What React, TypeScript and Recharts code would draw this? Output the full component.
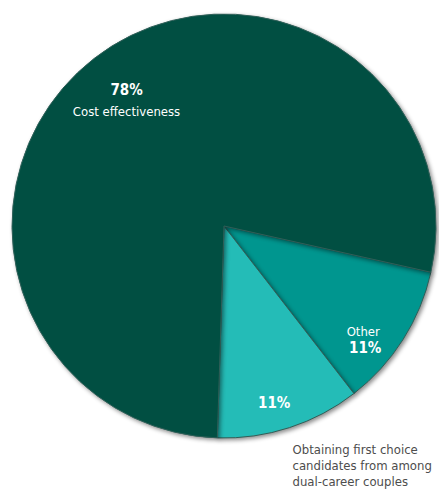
import { Cell, Pie, PieChart } from 'recharts';

const names = ['Other', 'Obtaining first choice candidates from among dual-career couples', 'Cost effectiveness'];
const shares = [11, 11, 78];
const colors = ['#00968f', '#24bcb7', '#014f42'];

const data = names.map((name, i) => ({ name, value: shares[i] }));

const FONT = '"Liberation Sans Narrow", "DejaVu Sans Condensed", "Roboto", sans-serif';
const RAD = Math.PI / 180;

// label placement per slice: radius fraction + small angular nudge (degrees)
const labelPlace = [
  { r: 0.85, shift: -7 },
  { r: 0.86, shift: -2 },
  { r: 0.75, shift: 0 },
];

function SliceLabel(props: any) {
  const { cx, cy, midAngle, outerRadius, index, payload } = props;
  const place = labelPlace[index];
  const a = (midAngle + place.shift) * RAD;
  const x = cx + outerRadius * place.r * Math.cos(-a);
  const y = cy + outerRadius * place.r * Math.sin(-a);
  const pct = `${payload.value}%`;

  if (index === 0) {
    return (
      <text x={x} y={y} fill="#fff" textAnchor="middle" fontFamily={FONT}>
        <tspan x={x} dy={-4} fontSize={13}>{payload.name}</tspan>
        <tspan x={x + 2} dy={17} fontSize={15} fontWeight="bold">{pct}</tspan>
      </text>
    );
  }
  if (index === 1) {
    const ox = cx + outerRadius * Math.cos(-midAngle * RAD);
    const oy = cy + outerRadius * Math.sin(-midAngle * RAD);
    const lines = ['Obtaining first choice', 'candidates from among', 'dual-career couples'];
    return (
      <g>
        <text x={x} y={y + 7} fill="#fff" textAnchor="middle" fontFamily={FONT} fontSize={15} fontWeight="bold">
          {pct}
        </text>
        <text x={ox + 3} y={oy + 26} fill="#4d4d4d" textAnchor="start" fontFamily={FONT} fontSize={13}>
          {lines.map((l, i) => (
            <tspan key={l} x={ox + 3} dy={i === 0 ? 0 : 16}>{l}</tspan>
          ))}
        </text>
      </g>
    );
  }
  return (
    <text x={x} y={y} fill="#fff" textAnchor="middle" fontFamily={FONT}>
      <tspan x={x} dy={-5} fontSize={15} fontWeight="bold">{pct}</tspan>
      <tspan x={x} dy={21} fontSize={13}>{payload.name}</tspan>
    </text>
  );
}

export default function App() {
  return (
    <div style={{ position: 'absolute', left: 0, top: 0, width: 439, height: 489, background: '#fff' }}>
      <style>{`.recharts-pie-sector path { filter: drop-shadow(2px 2px 2px rgba(0,0,0,0.45)); }`}</style>
      <PieChart width={439} height={489} margin={{ top: 0, right: 0, bottom: 0, left: 0 }}>
        <Pie
          data={data}
          dataKey="value"
          nameKey="name"
          cx={224}
          cy={226}
          innerRadius={0}
          outerRadius={212}
          startAngle={-12.6}
          endAngle={-372.6}
          stroke="#2f5f58"
          strokeWidth={1}
          label={SliceLabel}
          labelLine={false}
          isAnimationActive={false}
        >
          {data.map((d, i) => (
            <Cell key={d.name} fill={colors[i]} />
          ))}
        </Pie>
      </PieChart>
    </div>
  );
}
